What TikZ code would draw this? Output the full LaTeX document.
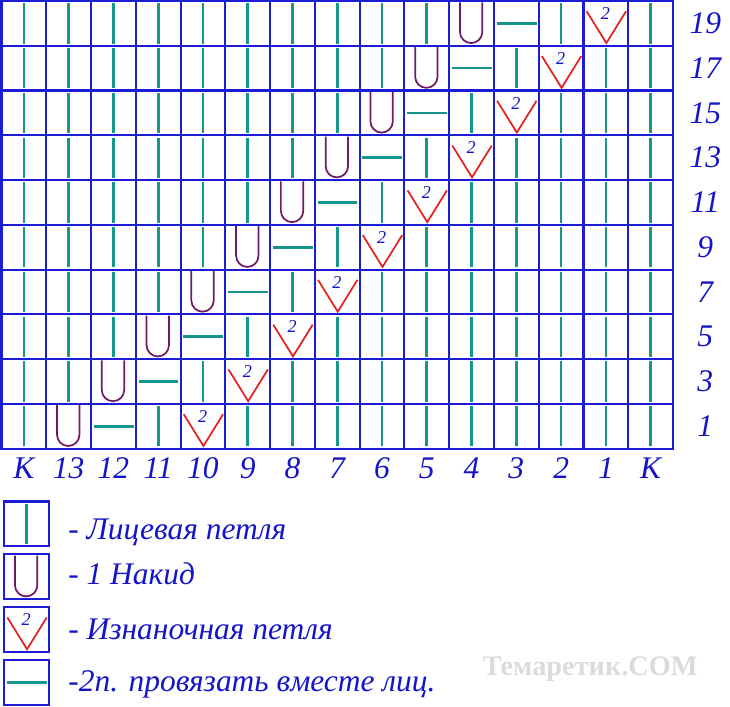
\documentclass[tikz,border=0pt]{standalone}
\usepackage{fontspec}
\setmainfont{Liberation Serif}

\definecolor{bleu}{RGB}{28,28,214}
\definecolor{sarcelle}{RGB}{22,150,140}
\definecolor{prune}{RGB}{112,24,104}
\definecolor{rouge}{RGB}{228,32,32}
\definecolor{encre}{RGB}{20,20,200}

\tikzset{
  grille/.style={bleu, line width=1.3pt},
  endroit/.style={sarcelle, line width=1.7pt},
  jete/.style={prune, line width=1.1pt},
  envers/.style={rouge, line width=1.1pt},
  chiffre/.style={encre, font=\fontsize{11.5}{13}\selectfont\itshape, inner sep=0pt},
  etiquette/.style={encre, font=\fontsize{20}{24}\selectfont\itshape},
  legende/.style={encre, font=\fontsize{20}{24}\selectfont\itshape, anchor=base west, inner sep=0pt},
  filigrane/.style={black!14, font=\fontsize{18}{22}\selectfont\bfseries},
}

% Symboles d'une case (coin bas gauche en #1,#2)
\newcommand{\maille}[2]{\draw[endroit] (#1+0.5,#2+0.05) -- (#1+0.5,#2+0.95);}
\newcommand{\ensemble}[2]{\draw[endroit] (#1+0.06,#2+0.5) -- (#1+0.95,#2+0.5);}
\newcommand{\jete}[2]{\draw[jete] (#1+0.24,#2+0.97) -- (#1+0.24,#2+0.31)
    arc[start angle=180, end angle=360, radius=0.25] -- (#1+0.74,#2+0.97);}
\newcommand{\envers}[3]{\draw[envers] (#1+0.07,#2+0.77) -- (#1+0.51,#2+0.06) -- (#1+0.95,#2+0.77);
    \node[chiffre] (#3) at (#1+0.49,#2+0.72) {2};}

\begin{document}
\begin{tikzpicture}
    \useasboundingbox (-0.034,-5.769) rectangle (16.272,10.022);

    % Dessiner la grille de 15x10
    \draw[grille] (0,0) grid (15,10);
    \draw[grille] (0,0) rectangle (15,10);

    % Remplir les cases rang par rang
    \foreach \r in {0,...,9}
        \foreach \c in {0,...,14}{
            \pgfmathtruncatemacro{\d}{\c-\r}
            \ifnum\d=1 \jete{\c}{\r}\else
            \ifnum\d=2 \ensemble{\c}{\r}\else
            \ifnum\d=4 \envers{\c}{\r}{deux-\c-\r}\else
            \maille{\c}{\r}\fi\fi\fi
        }

    % Numeros des rangs a droite
    \foreach \r/\n in {0/1,1/3,2/5,3/7,4/9,5/11,6/13,7/15,8/17,9/19}
        \node[etiquette] (rang\n) at (15.72,\r+0.5) {\n};

    % Numeros des mailles en bas
    \foreach \c/\t in {0/К,1/13,2/12,3/11,4/10,5/9,6/8,7/7,8/6,9/5,10/4,11/3,12/2,13/1,14/К}
        \node[etiquette] (col\c) at (\c+0.5,-0.43) {\t};

    % Legende
    \foreach \i in {1,...,4}
        \draw[grille] (0.06,-1.18*\i) rectangle (1.06,-1.18*\i-1);
    \maille{0.06}{-2.18}
    \jete{0.06}{-3.36}
    \envers{0.06}{-4.54}{deux-legende}
    \ensemble{0.06}{-5.72}

    \node[legende] (leg1) at (1.485,-2.04) {- Лицевая петля};
    \node[legende] (leg2) at (1.485,-3.03) {- 1 Накид};
    \node[legende] (leg3) at (1.485,-4.26) {- Изнаночная петля};
    \node[legende] (leg4) at (1.485,-5.43) {-2п. провязать вместе лиц.};

    % Filigrane
    \node[filigrane] (site) at (13.15,-4.92) {Темаретик.COM};
\end{tikzpicture}
\end{document}
